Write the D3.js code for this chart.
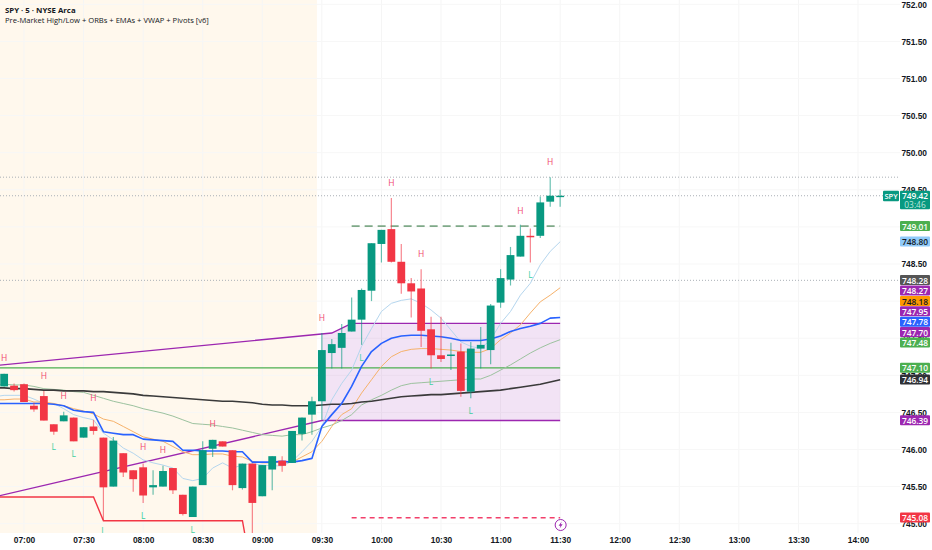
<!DOCTYPE html>
<html>
<head>
<meta charset="utf-8">
<script src="https://cdn.jsdelivr.net/npm/d3@7"></script>
<style>
  html, body { margin: 0; padding: 0; background: #fff; }
  svg { display: block; font-family: "Open Sans", "Noto Sans", sans-serif; }
  .axis text { fill: #131722; font-size: 8.4px; font-weight: 600; }
  .axis .domain, .axis line { display: none; }
  .pivot { font-size: 8.5px; text-anchor: middle; dominant-baseline: middle; }
  .tag { font-size: 8.4px; font-weight: 600; text-anchor: middle; dominant-baseline: central; }
</style>
</head>
<body>
<div id="chart"></div>
<script>
// 5 minute bars, minutes after midnight, first bar is 06:50
const barOpen = [746.85,746.86,746.88,746.59,746.72,746.34,746.38,746.43,746.16,746.31,746.16,745.50,745.95,745.72,745.76,745.49,745.50,745.75,745.39,745.09,745.52,746.01,746.11,745.99,745.48,745.81,745.37,745.73,745.85,745.82,746.21,746.47,746.65,747.30,747.37,747.59,747.75,748.14,748.77,748.97,748.53,748.24,748.17,747.62,747.27,747.26,747.32,746.78,747.36,747.34,747.98,748.29,748.60,748.88,748.88,749.34,749.41];
const barClose = [747.02,746.80,746.64,746.54,746.39,746.24,746.46,746.11,746.30,746.25,745.49,746.12,745.69,745.60,745.38,745.52,745.71,745.45,745.13,745.50,745.99,746.13,746.04,745.52,745.81,745.28,745.79,745.91,745.78,746.25,746.43,746.65,747.34,747.42,747.57,747.75,748.15,748.78,748.96,748.53,748.24,748.13,747.60,747.27,747.22,747.28,746.79,747.36,747.41,747.94,748.31,748.62,748.88,748.86,749.33,749.42,749.42];
const barHigh = [747.02,746.89,746.89,746.63,746.79,746.34,746.51,746.43,746.30,746.40,746.16,746.17,745.95,745.72,745.81,745.72,745.78,745.75,745.39,745.50,746.11,746.13,746.11,745.99,745.81,745.81,745.79,745.91,745.91,746.25,746.43,746.71,747.57,747.49,747.69,748.05,748.17,748.78,748.96,749.39,748.77,748.31,748.43,747.79,747.79,747.44,747.43,747.45,747.65,747.96,748.43,748.73,749.03,748.98,749.41,749.67,749.50];
const barLow = [746.85,746.78,746.64,746.51,746.39,746.20,746.38,746.11,746.16,746.20,745.05,745.50,745.63,745.43,745.28,745.39,745.50,745.40,745.11,745.09,745.52,745.90,746.04,745.45,745.46,744.87,745.37,745.45,745.70,745.82,746.12,746.20,746.40,747.09,747.09,747.59,747.41,748.00,748.52,748.52,748.10,747.78,747.38,747.09,747.18,747.07,746.71,746.69,747.09,747.15,747.91,748.21,748.60,748.52,748.85,749.27,749.27];

// indicator values, one per 5 minutes starting at 06:45
const vwapLine = [746.83,746.83,746.82,746.82,746.81,746.80,746.80,746.79,746.79,746.79,746.78,746.78,746.77,746.76,746.75,746.73,746.72,746.71,746.70,746.69,746.68,746.67,746.66,746.65,746.65,746.64,746.63,746.61,746.60,746.60,746.59,746.59,746.59,746.60,746.61,746.61,746.62,746.64,746.65,746.67,746.69,746.71,746.72,746.73,746.74,746.74,746.75,746.76,746.77,746.78,746.79,746.80,746.82,746.84,746.86,746.88,746.91,746.94];
const blueLine = [746.62,746.62,746.62,746.62,746.62,746.62,746.61,746.59,746.53,746.51,746.50,746.24,746.22,746.20,746.20,746.14,746.13,746.12,746.11,745.99,745.99,745.98,745.98,745.98,745.97,745.97,745.83,745.83,745.83,745.84,745.83,745.85,745.88,746.31,746.47,746.62,746.85,747.12,747.32,747.43,747.50,747.53,747.54,747.54,747.53,747.52,747.50,747.47,747.47,747.47,747.49,747.53,747.59,747.63,747.66,747.70,747.77,747.78];
const orangeLine = [746.67,746.67,746.68,746.68,746.64,746.64,746.62,746.59,746.55,746.52,746.48,746.41,746.38,746.31,746.24,746.17,746.14,746.11,746.04,745.97,745.93,745.93,745.94,745.94,745.91,745.90,745.84,745.82,745.82,745.83,745.83,745.90,745.97,746.11,746.31,746.47,746.55,746.76,746.94,747.12,747.25,747.32,747.35,747.36,747.36,747.35,747.34,747.32,747.31,747.31,747.36,747.48,747.57,747.68,747.84,747.99,748.08,748.18];
const lightLine = [746.71,746.73,746.73,746.73,746.68,746.62,746.62,746.55,746.47,746.43,746.40,746.22,746.13,746.02,745.95,745.86,745.82,745.79,745.75,745.61,745.58,745.61,745.75,745.82,745.75,745.79,745.81,745.79,745.78,745.78,745.84,745.97,746.11,746.31,746.67,746.89,747.07,747.39,747.63,747.86,747.97,748.01,748.03,747.97,747.88,747.77,747.61,747.45,747.39,747.36,747.48,747.70,747.86,748.08,748.24,748.49,748.67,748.80];
const greenLine = [746.87,746.88,746.87,746.87,746.85,746.82,746.81,746.80,746.78,746.77,746.73,746.69,746.65,746.62,746.59,746.55,746.52,746.49,746.45,746.40,746.35,746.34,746.33,746.31,746.29,746.26,746.23,746.20,746.19,746.18,746.20,746.20,746.24,746.29,746.33,746.39,746.47,746.60,746.67,746.73,746.80,746.86,746.89,746.90,746.91,746.92,746.93,746.94,746.95,746.95,747.00,747.07,747.14,747.22,747.30,747.37,747.43,747.48];

// [minute, price] corners of the level lines
const premarketLow = [[405,745.36],[455,745.36],[460,745.04],[530,745.04],[535,744.30]];
const orbHigh = [[405,747.13],[575,747.57],[585,747.70],[690,747.70]];
const orbLow = [[405,745.36],[570,746.39],[690,746.39]];
const openLevel = [[405,747.10],[690,747.10]];
const dashedHigh = [[585,749.01],[690,749.01]];
const dashedLow = [[585,745.08],[690,745.08]];
const dottedLevels = [749.67,749.42,748.28];

// pivots: [minute, price]
const pivotHighs = [[410,747.22],[430,746.98],[440,746.71],[455,746.69],[480,746.03],[490,745.98],[515,746.33],[570,747.76],[605,749.58],[620,748.62],[670,749.21],[685,749.87]];
const pivotLows = [[435,746.02],[445,745.93],[480,745.10],[505,744.90],[460,744.89],[590,747.23],[625,746.90],[645,746.51],[675,748.34]];

const priceTicks = [745,745.5,746,746.5,747,747.5,748,748.5,749,749.5,750,750.5,751,751.5,752];
const timeTicks = ["07:00","07:30","08:00","08:30","09:00","09:30","10:00","10:30","11:00","11:30","12:00","12:30","13:00","13:30","14:00"];
const tagValues = [749.01,748.80,748.28,748.27,748.18,747.95,747.78,747.70,747.48,747.10,746.94,746.39,745.08];
const tagFills = ["#4caf50","#90caf9","#555555","#9c27b0","#ff9800","#9c27b0","#2962ff","#9c27b0","#4caf50","#4caf50","#2f3136","#9c27b0","#f23645"];
const tagText = ["#fff","#131722","#fff","#fff","#131722","#fff","#fff","#fff","#fff","#fff","#fff","#fff","#fff"];
const lastPrice = 749.42;
const countdown = "03:46";

const UP = "#089981";
const DOWN = "#f23645";
const W = 932, H = 550, plotBottom = 533;

const toMinute = (s) => +s.slice(0, 2) * 60 + +s.slice(3);
const x = d3.scaleLinear().domain([420, 840]).range([24, 858]);
const y = d3.scaleLinear().domain([745, 752]).range([523.7, 4.3]);

const svg = d3.select("#chart").append("svg").attr("width", W).attr("height", H);

// session background
svg.append("rect")
  .attr("x", 0).attr("y", 0)
  .attr("width", x(567.5)).attr("height", plotBottom)
  .attr("fill", "#fff8ed");

// grid
const grid = svg.append("g");
grid.selectAll(".v").data(timeTicks).join("line")
  .attr("x1", (d) => x(toMinute(d))).attr("x2", (d) => x(toMinute(d)))
  .attr("y1", 0).attr("y2", plotBottom)
  .attr("stroke", "#f5f5f5");
grid.selectAll(".h").data(priceTicks).join("line")
  .attr("x1", 0).attr("x2", 900)
  .attr("y1", (d) => y(d)).attr("y2", (d) => y(d))
  .attr("stroke", "#f7f7f7");

svg.append("clipPath").attr("id", "plot")
  .append("rect").attr("width", W).attr("height", plotBottom);
const plot = svg.append("g").attr("clip-path", "url(#plot)");

// opening range box
const levelLine = d3.line().x((d) => x(d[0])).y((d) => y(d[1]));
const zoneTop = [[570, 747.56], orbHigh[1], orbHigh[2], orbHigh[3]];
plot.append("path")
  .attr("d", d3.area().x((d) => x(d[0])).y0(y(746.39)).y1((d) => y(d[1]))(zoneTop))
  .attr("fill", "rgba(156,39,176,0.13)");

dottedLevels.forEach((v) => {
  plot.append("line")
    .attr("x1", 0).attr("x2", v === lastPrice ? 883 : 899)
    .attr("y1", y(v)).attr("y2", y(v))
    .attr("stroke", "#aab0b6").attr("stroke-width", 1)
    .attr("stroke-dasharray", "1 2");
});

function drawLevel(points, color, width, dash) {
  plot.append("path")
    .attr("d", levelLine(points))
    .attr("fill", "none")
    .attr("stroke", color)
    .attr("stroke-width", width)
    .attr("stroke-dasharray", dash || null);
}

drawLevel(premarketLow, "#f23645", 1.4);
drawLevel(orbHigh, "#9c27b0", 1.4);
drawLevel(orbLow, "#9c27b0", 1.4);
drawLevel(openLevel, "#4caf50", 1.3);
drawLevel(dashedHigh, "#7fa988", 1.6, "8 5");
drawLevel(dashedLow, "#f23f6a", 1.4, "5 4");

// indicator lines
function drawSeries(values, color, width) {
  const line = d3.line().x((d, i) => x(405 + i * 5)).y((d) => y(d));
  plot.append("path")
    .attr("d", line(values))
    .attr("fill", "none")
    .attr("stroke", color)
    .attr("stroke-width", width)
    .attr("stroke-linejoin", "round");
}

drawSeries(greenLine, "#9cc29f", 1);
drawSeries(lightLine, "#b5d6ee", 1);
drawSeries(orangeLine, "#f6b26b", 1);
drawSeries(vwapLine, "#3a3a3a", 1.6);
drawSeries(blueLine, "#2962ff", 1.6);

// candles
const bars = barOpen.map((o, i) => ({
  t: 410 + i * 5, o: o, c: barClose[i], h: barHigh[i], l: barLow[i],
}));
const candle = plot.selectAll(".candle").data(bars).join("g").attr("class", "candle");
candle.append("line")
  .attr("x1", (d) => x(d.t)).attr("x2", (d) => x(d.t))
  .attr("y1", (d) => y(d.h)).attr("y2", (d) => y(d.l))
  .attr("stroke", (d) => (d.c >= d.o ? UP : DOWN))
  .attr("stroke-opacity", 0.6)
  .attr("stroke-width", 1.2);
candle.append("rect")
  .attr("x", (d) => x(d.t) - 3.9)
  .attr("width", 7.8)
  .attr("y", (d) => y(Math.max(d.o, d.c)))
  .attr("height", (d) => Math.max(1.4, Math.abs(y(d.o) - y(d.c))))
  .attr("fill", (d) => (d.c >= d.o ? UP : DOWN));

// pivot letters
plot.selectAll(".ph").data(pivotHighs).join("text")
  .attr("class", "pivot")
  .attr("x", (d) => x(d[0])).attr("y", (d) => y(d[1]))
  .attr("fill", "#f0476e")
  .text("H");
plot.selectAll(".pl").data(pivotLows).join("text")
  .attr("class", "pivot")
  .attr("x", (d) => x(d[0])).attr("y", (d) => y(d[1]))
  .attr("fill", "#3fcf9f")
  .text("L");

// axes
svg.append("g")
  .attr("class", "axis")
  .attr("transform", "translate(0,537)")
  .call(d3.axisBottom(x).tickValues(timeTicks.map(toMinute)).tickSize(0).tickPadding(0)
    .tickFormat((d) => timeTicks[timeTicks.map(toMinute).indexOf(d)]));

svg.append("g")
  .attr("class", "axis")
  .attr("transform", "translate(927,0)")
  .call(d3.axisLeft(y).tickValues(priceTicks).tickSize(0).tickPadding(0).tickFormat(d3.format(".2f")));

// last value tags on the price scale, pushed down when they would overlap
const tagH = 10.4;
let prevY = -100;
const tags = svg.append("g");
tagValues.forEach((v, i) => {
  const cy = Math.max(y(v), prevY + tagH);
  prevY = cy;
  tags.append("rect")
    .attr("x", 900).attr("y", cy - tagH / 2)
    .attr("width", 30).attr("height", tagH - 0.4)
    .attr("rx", 1)
    .attr("fill", tagFills[i]);
  tags.append("text")
    .attr("class", "tag")
    .attr("x", 915).attr("y", cy)
    .attr("fill", tagText[i])
    .text(v.toFixed(2));
});

// current price block
const priceY = y(lastPrice);
tags.append("rect")
  .attr("x", 883).attr("y", priceY - 5)
  .attr("width", 16).attr("height", 10.5)
  .attr("rx", 1).attr("fill", UP);
tags.append("text").attr("class", "tag")
  .attr("x", 891).attr("y", priceY).attr("fill", "#fff")
  .style("font-size", "7.5px")
  .text("SPY");
tags.append("rect")
  .attr("x", 900).attr("y", priceY - 5)
  .attr("width", 30).attr("height", 18.5)
  .attr("rx", 1).attr("fill", UP);
tags.append("text").attr("class", "tag")
  .attr("x", 915).attr("y", priceY).attr("fill", "#fff")
  .text(lastPrice.toFixed(2));
tags.append("text").attr("class", "tag")
  .attr("x", 915).attr("y", priceY + 9).attr("fill", "#bfe6dd")
  .style("font-weight", 400)
  .text(countdown);

// lightning mark
const mark = svg.append("g").attr("transform", `translate(${x(690) + 0.5},525)`);
mark.append("circle").attr("r", 5.5).attr("fill", "#fff").attr("stroke", "#9c27b0").attr("stroke-width", 1);
mark.append("path").attr("d", "M1,-3.5 L-2,0.7 L-0.2,0.7 L-1,3.5 L2,-0.7 L0.2,-0.7 Z").attr("fill", "#9c27b0");

// title
svg.append("text").attr("x", 5).attr("y", 13)
  .attr("fill", "#131722").style("font-size", "7.8px").style("font-weight", 700)
  .text("SPY · 5 · NYSE Arca");
svg.append("text").attr("x", 5).attr("y", 23)
  .attr("fill", "#131722").style("font-size", "7.6px")
  .text("Pre-Market High/Low + ORBs + EMAs + VWAP + Pivots [v6]");
</script>
</body>
</html>
